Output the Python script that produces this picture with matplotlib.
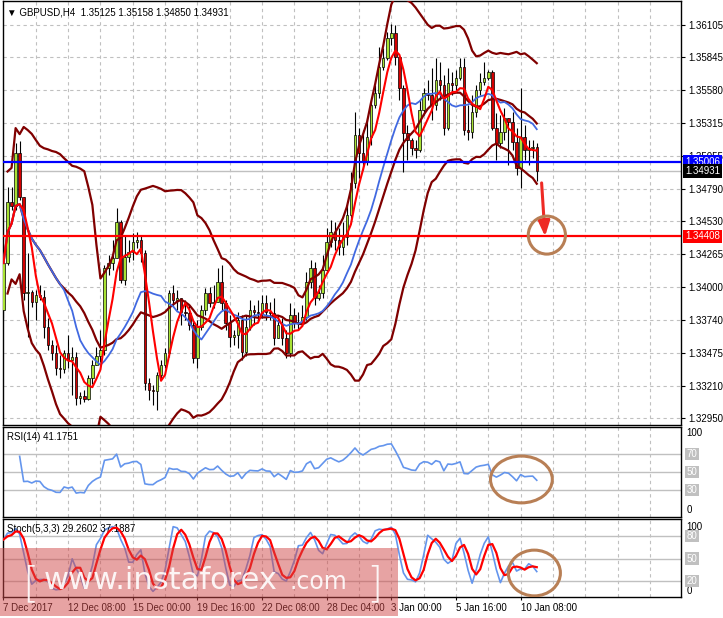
import matplotlib
matplotlib.use('Agg')
import matplotlib.pyplot as plt
from matplotlib.patches import Ellipse, Rectangle
import numpy as np
import pandas as pd

plt.rcParams['font.family'] = ['Liberation Sans', 'DejaVu Sans']

# GBPUSD H4 candles
first_open = 1.33817
closes = [1.34194, 1.34684, 1.34652, 1.35077, 1.34724, 1.33953, 1.33961, 1.33881, 1.33937, 1.33921,
          1.33680, 1.33536, 1.33471, 1.33351, 1.33343, 1.33471, 1.33415, 1.33439, 1.33110, 1.33126,
          1.33102, 1.33271, 1.33375, 1.33447, 1.33495, 1.34154, 1.34194, 1.34234, 1.34523, 1.34058,
          1.34242, 1.34282, 1.34363, 1.34379, 1.34274, 1.33231, 1.33174, 1.33166, 1.33295, 1.33375,
          1.33471, 1.33953, 1.33897, 1.33913, 1.33801, 1.33793, 1.33696, 1.33431, 1.33680, 1.33817,
          1.33953, 1.33873, 1.33881, 1.34042, 1.33873, 1.33712, 1.33600, 1.33616, 1.33736, 1.33479,
          1.33680, 1.33817, 1.33801, 1.33793, 1.33873, 1.33801, 1.33793, 1.33592, 1.33696, 1.33592,
          1.33471, 1.33777, 1.33712, 1.33720, 1.33760, 1.34042, 1.34154, 1.33913, 1.33953, 1.34138,
          1.34363, 1.34443, 1.34379, 1.34323, 1.34403, 1.34580, 1.34837, 1.35222, 1.35077, 1.35005,
          1.35206, 1.35463, 1.35559, 1.35768, 1.35840, 1.36001, 1.36041, 1.35848, 1.35599, 1.35238,
          1.35182, 1.35118, 1.35101, 1.35423, 1.35559, 1.35543, 1.35463, 1.35664, 1.35623, 1.35278,
          1.35640, 1.35623, 1.35680, 1.35768, 1.35262, 1.35246, 1.35407, 1.35583, 1.35648, 1.35680,
          1.35728, 1.35278, 1.35158, 1.35246, 1.35358, 1.35326, 1.35166, 1.34957, 1.35206, 1.35101,
          1.35118, 1.35125, 1.34931]
highs = [1.34339, 1.34804, 1.34804, 1.35158, 1.35174, 1.34724, 1.34274, 1.33977, 1.33977, 1.34017,
         1.33977, 1.33752, 1.33576, 1.33536, 1.33455, 1.33495, 1.33616, 1.33520, 1.33479, 1.33158,
         1.33174, 1.33295, 1.33415, 1.33520, 1.33656, 1.34178, 1.34258, 1.34379, 1.34636, 1.34539,
         1.34419, 1.34379, 1.34435, 1.34443, 1.34419, 1.34298, 1.33271, 1.33214, 1.33319, 1.33415,
         1.33512, 1.33977, 1.34017, 1.33977, 1.33897, 1.33897, 1.33857, 1.33736, 1.33736, 1.33857,
         1.33993, 1.34001, 1.34017, 1.34154, 1.34178, 1.33897, 1.33777, 1.33656, 1.33801, 1.33777,
         1.33777, 1.33897, 1.33857, 1.33897, 1.33937, 1.33937, 1.33881, 1.33913, 1.33777, 1.33752,
         1.33656, 1.33873, 1.33833, 1.33801, 1.33857, 1.34122, 1.34218, 1.34202, 1.34017, 1.34258,
         1.34475, 1.34539, 1.34523, 1.34475, 1.34523, 1.34660, 1.34925, 1.35407, 1.35278, 1.35262,
         1.35358, 1.35503, 1.35623, 1.35929, 1.35921, 1.36049, 1.36113, 1.36105, 1.35864, 1.35623,
         1.35302, 1.35198, 1.35182, 1.35503, 1.35599, 1.35664, 1.35760, 1.35840, 1.35808, 1.35704,
         1.35760, 1.35728, 1.35744, 1.35840, 1.35840, 1.35463, 1.35543, 1.35623, 1.35720, 1.35808,
         1.35744, 1.35744, 1.35399, 1.35383, 1.35439, 1.35358, 1.35407, 1.35278, 1.35599, 1.35302,
         1.35182, 1.35182, 1.35158]
lows = [1.33752, 1.34178, 1.34620, 1.34620, 1.34700, 1.33897, 1.33600, 1.33841, 1.33736, 1.33897,
        1.33592, 1.33495, 1.33415, 1.33295, 1.33271, 1.33311, 1.33351, 1.33134, 1.33054, 1.33062,
        1.33078, 1.33094, 1.33222, 1.33415, 1.33399, 1.33455, 1.34098, 1.34138, 1.34234, 1.34034,
        1.34017, 1.34202, 1.34218, 1.34315, 1.34202, 1.33174, 1.33094, 1.33054, 1.33014, 1.33271,
        1.33351, 1.33439, 1.33841, 1.33817, 1.33696, 1.33736, 1.33656, 1.33391, 1.33351, 1.33656,
        1.33777, 1.33841, 1.33833, 1.33881, 1.33817, 1.33656, 1.33520, 1.33536, 1.33512, 1.33415,
        1.33447, 1.33656, 1.33696, 1.33720, 1.33752, 1.33736, 1.33736, 1.33536, 1.33616, 1.33536,
        1.33431, 1.33439, 1.33672, 1.33656, 1.33720, 1.33736, 1.33993, 1.33857, 1.33897, 1.33913,
        1.34122, 1.34323, 1.34298, 1.34258, 1.34258, 1.34339, 1.34523, 1.34796, 1.34877, 1.34941,
        1.34981, 1.35142, 1.35439, 1.35519, 1.35744, 1.35824, 1.35945, 1.35784, 1.35503, 1.34925,
        1.35021, 1.35061, 1.35037, 1.35085, 1.35383, 1.35503, 1.35342, 1.35423, 1.35503, 1.35222,
        1.35262, 1.35543, 1.35583, 1.35664, 1.35222, 1.35182, 1.35198, 1.35366, 1.35543, 1.35623,
        1.35664, 1.35262, 1.35021, 1.35118, 1.35182, 1.34981, 1.35101, 1.34901, 1.34796, 1.35021,
        1.34981, 1.35037, 1.34850]

date_labels = ['7 Dec 2017', '12 Dec 08:00', '15 Dec 00:00', '19 Dec 16:00', '22 Dec 08:00',
               '28 Dec 04:00', '3 Jan 00:00', '5 Jan 16:00', '10 Jan 08:00']
bars_per_label = 16
price_ticks = [1.36105, 1.35845, 1.35580, 1.35315, 1.35055, 1.34790, 1.34530,
               1.34265, 1.34000, 1.33740, 1.33475, 1.33210, 1.32950]
resistance = 1.35006
target = 1.34408

# ---- indicators ----
c = pd.Series(closes)
o = pd.Series([first_open] + closes[:-1])
h = np.maximum(np.array(highs), np.maximum(o, c))
l = np.minimum(np.array(lows), np.minimum(o, c))
hs, ls = pd.Series(h), pd.Series(l)
n = len(c)
x = np.arange(n)

ma_fast = c.rolling(5, min_periods=1).mean()
ma_slow = c.rolling(15, min_periods=1).mean()
bb_mid = c.rolling(20, min_periods=1).mean()
bb_sd = c.rolling(20, min_periods=2).std(ddof=0)
bb_up = bb_mid + 2 * bb_sd
bb_lo = bb_mid - 2 * bb_sd

delta = c.diff()
gain = delta.clip(lower=0)
loss = -delta.clip(upper=0)
avg_g = gain.ewm(alpha=1/14, adjust=True, min_periods=4).mean()
avg_l = loss.ewm(alpha=1/14, adjust=True, min_periods=4).mean()
rsi = 100 - 100 / (1 + avg_g / avg_l)

ll5 = ls.rolling(5, min_periods=1).min()
hh5 = hs.rolling(5, min_periods=1).max()
st_main = 100 * (c - ll5).rolling(3, min_periods=1).sum() / (hh5 - ll5).rolling(3, min_periods=1).sum()
st_sig = st_main.rolling(3, min_periods=1).mean()

# ---- layout (pixel boxes of the MT4 window) ----
W, H = 723, 618
fig = plt.figure(figsize=(W / 100, H / 100), dpi=100)
fig.patch.set_facecolor('white')


def box(x0, y0, x1, y1):
    return [x0 / W, 1 - y1 / H, (x1 - x0) / W, (y1 - y0) / H]


ax = fig.add_axes(box(3, 1, 681, 425))
ax_rsi = fig.add_axes(box(3, 427, 681, 517))
ax_st = fig.add_axes(box(3, 519, 681, 597))

xlim = (-0.12, -0.12 + 678 / 4.04)
grid_kw = dict(color='#c0c0c0', lw=0.8, ls=(0, (3, 3)), zorder=0)
for a in (ax, ax_rsi, ax_st):
    a.set_xlim(*xlim)
    for gx in range(8, int(xlim[1]) + 1, 8):
        a.axvline(gx, **grid_kw)
    for s in a.spines.values():
        s.set_color('black')
        s.set_linewidth(1)

# ---- main chart ----
ax.set_ylim(1.32893, 1.36298)
for p in price_ticks:
    ax.axhline(p, **grid_kw)

up = c >= o
body_lo = np.minimum(o, c)
body_h = np.maximum(np.abs(c - o), 0.00003)
ax.vlines(x, l, h, color='black', lw=0.8, zorder=2)
ax.bar(x[up], body_h[up], bottom=body_lo[up], width=0.62, color='#a8e234',
       edgecolor='black', linewidth=0.5, zorder=3)
ax.bar(x[~up], body_h[~up], bottom=body_lo[~up], width=0.62, color='#d40000',
       edgecolor='black', linewidth=0.5, zorder=3)

for band in (bb_up, bb_mid, bb_lo):
    ax.plot(x, band, color='#800000', lw=1.6, zorder=4)
ax.plot(x, ma_slow, color='#4169e1', lw=1.3, zorder=5)
ax.plot(x, ma_fast, color='#ff0000', lw=1.5, zorder=6)

ax.axhline(c.iloc[-1], color='#c0c0c0', lw=1, zorder=1)
ax.axhline(resistance, color='#0000ff', lw=1.6, zorder=7)
ax.axhline(target, color='#ff0000', lw=1.6, zorder=7)

ax.set_xticks([])
ax.yaxis.tick_right()
ax.set_yticks(price_ticks)
ax.set_yticklabels(['%.5f' % p for p in price_ticks])
ax.tick_params(axis='y', length=3, width=0.8, labelsize=7, pad=2, colors='black')

ytr = ax.get_yaxis_transform()
for val, bg in ((resistance, '#0000ff'), (c.iloc[-1], '#000000'), (target, '#ff0000')):
    ax.text(1.006, val, '%.5f' % val, transform=ytr, color='white', fontsize=7,
            va='center', ha='left', clip_on=False, zorder=20,
            bbox=dict(boxstyle='square,pad=0.18', fc=bg, ec='none'))

ax.text(0.006, 0.985, u'\u25bc GBPUSD,H4  1.35125 1.35158 1.34850 1.34931',
        transform=ax.transAxes, fontsize=7, va='top', ha='left', color='black', zorder=20)

# forecast arrow and circle
ax.annotate('', xy=(n + 1.05, target), xytext=(n + 0.2, c.iloc[-1] - 0.00094),
            arrowprops=dict(arrowstyle='-|>,head_length=0.9,head_width=0.35',
                            color='#ee2a24', lw=2.2, shrinkA=0, shrinkB=0), zorder=9)
ax.add_patch(Ellipse((n + 1.5, target + 0.0001), 9.2, 0.00305, fill=False,
                     ec='#b87f55', lw=2.2, zorder=10))

# ---- RSI ----
ax_rsi.set_ylim(0, 100)
for lv in (70, 50, 30):
    ax_rsi.axhline(lv, color='#c0c0c0', lw=1, zorder=1)
ax_rsi.plot(x, rsi, color='#6495ed', lw=1.2, zorder=3)
ax_rsi.set_xticks([])
ax_rsi.set_yticks([])
ax_rsi.text(0.006, 0.94, 'RSI(14) 41.1751', transform=ax_rsi.transAxes, fontsize=7,
            va='top', ha='left')
rtr = ax_rsi.get_yaxis_transform()
ax_rsi.text(1.008, 93, '100', transform=rtr, fontsize=7, va='center', ha='left', clip_on=False)
ax_rsi.text(1.008, 8, '0', transform=rtr, fontsize=7, va='center', ha='left', clip_on=False)
for lv in (70, 50, 30):
    ax_rsi.text(1.008, lv, str(lv), transform=rtr, fontsize=7, va='center', ha='left',
                color='white', clip_on=False,
                bbox=dict(boxstyle='square,pad=0.15', fc='#c0c0c0', ec='none'))
ax_rsi.add_patch(Ellipse((n - 4.8, 41.7), 15.3, 52, fill=False, ec='#b87f55', lw=2.2, zorder=10))

# ---- Stochastic ----
ax_st.set_ylim(-1.3, 102.7)
for lv in (80, 50, 20):
    ax_st.axhline(lv, color='#c0c0c0', lw=1, zorder=1)
ax_st.plot(x, st_main, color='#6495ed', lw=1.2, zorder=3)
ax_st.plot(x, st_sig, color='#ff0000', lw=1.6, zorder=4)
ax_st.set_yticks([])
ax_st.text(0.006, 0.93, 'Stoch(5,3,3) 29.2602 37.1887', transform=ax_st.transAxes,
           fontsize=7, va='top', ha='left')
stt = ax_st.get_yaxis_transform()
ax_st.text(1.008, 92, '100', transform=stt, fontsize=7, va='center', ha='left', clip_on=False)
ax_st.text(1.008, 7, '0', transform=stt, fontsize=7, va='center', ha='left', clip_on=False)
for lv in (80, 50, 20):
    ax_st.text(1.008, lv, str(lv), transform=stt, fontsize=7, va='center', ha='left',
               color='white', clip_on=False,
               bbox=dict(boxstyle='square,pad=0.15', fc='#c0c0c0', ec='none'))
ax_st.add_patch(Ellipse((n - 1.6, 30.7), 12.9, 61, fill=False, ec='#b87f55', lw=2.2, zorder=10))

tick_pos = [i * bars_per_label for i in range(len(date_labels))]
ax_st.set_xticks(tick_pos)
ax_st.set_xticklabels(date_labels, ha='left')
ax_st.tick_params(axis='x', length=2, width=0.8, labelsize=7, pad=2)

# ---- watermark ----
fig.patches.append(Rectangle((0, 1 - 616 / H), 398 / W, 68 / H, transform=fig.transFigure,
                             fc='#d04848', ec='none', alpha=0.5, zorder=30))
wm = dict(color='white', alpha=0.9, zorder=31, va='baseline', ha='left', family='DejaVu Sans')
fig.text(22 / W, 1 - 597 / H, '[', fontsize=30, fontweight='light', **wm)
fig.text(44 / W, 1 - 589 / H, 'www.instaforex', fontsize=22, **wm)
fig.text(290 / W, 1 - 589 / H, '.com', fontsize=17, **wm)
fig.text(366 / W, 1 - 597 / H, ']', fontsize=30, fontweight='light', **wm)

fig.savefig('out.png', dpi=100, facecolor='white')
